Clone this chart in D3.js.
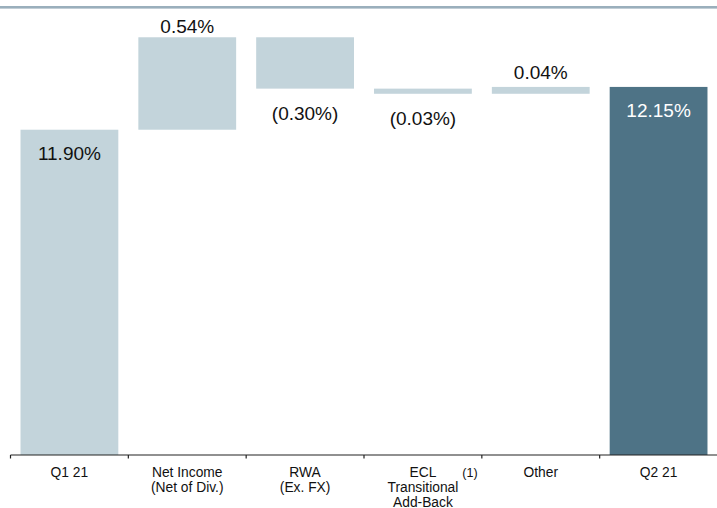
<!DOCTYPE html>
<html><head><meta charset="utf-8">
<script src="https://cdn.jsdelivr.net/npm/d3@7"></script>
<style>
html,body{margin:0;padding:0;background:#fff;}
svg{display:block;font-family:"Liberation Sans",Arial,sans-serif;}
</style></head>
<body>
<svg id="chart" width="717" height="508"></svg>
<script>
// Data
const categories = ["Q1 21", "Net Income|(Net of Div.)", "RWA|(Ex. FX)", "ECL|Transitional|Add-Back", "Other", "Q2 21"];
const values = [11.90, 0.54, -0.30, -0.03, 0.04, 12.15];
const kinds = ["total", "delta", "delta", "delta", "delta", "total"];
const valueLabels = ["11.90%", "0.54%", "(0.30%)", "(0.03%)", "0.04%", "12.15%"];
const footnotes = ["", "", "", "(1)", "", ""];

const svg = d3.select("#chart");
const W = 717, H = 508;

// top rule
svg.append("rect").attr("x", 0).attr("y", 6).attr("width", W).attr("height", 2.6).attr("fill", "#9aafbc");

const x = d3.scaleBand().domain(categories).range([10.5, 717.5]).paddingInner(0.17).paddingOuter(0.085);
const y = d3.scaleLinear().domain([10, 12.5]).range([455, 27]);

// compute waterfall segments
let running = 0;
const segs = categories.map((c, i) => {
  let lo, hi;
  if (kinds[i] === "total") { lo = 10; hi = values[i]; running = values[i]; }
  else { const s = running; running = running + values[i]; lo = Math.min(s, running); hi = Math.max(s, running); }
  return {c, i, lo, hi, v: values[i], kind: kinds[i], final: i === categories.length - 1};
});

svg.selectAll("rect.bar").data(segs).enter().append("rect")
  .attr("class", "bar")
  .attr("x", d => x(d.c))
  .attr("width", x.bandwidth())
  .attr("y", d => y(d.hi))
  .attr("height", d => y(d.lo) - y(d.hi))
  .attr("fill", d => d.final ? "#4e7386" : "#c3d4db");

// value labels
svg.selectAll("text.val").data(segs).enter().append("text")
  .attr("class", "val")
  .attr("x", d => x(d.c) + x.bandwidth() / 2)
  .attr("y", d => {
    if (d.kind === "total") return y(d.hi) + 30.5;
    if (d.v >= 0) return y(d.hi) - (d.v < 0.1 ? 7.5 : 4.5);
    return y(d.lo) + 31;
  })
  .attr("text-anchor", "middle")
  .attr("font-size", 19)
  .attr("fill", d => d.final ? "#ffffff" : "#111111")
  .text(d => valueLabels[d.i]);

// axis
const axisG = svg.append("g").attr("transform", "translate(0,455)");
axisG.append("line").attr("x1", 10.5).attr("x2", 717).attr("y1", 0).attr("y2", 0)
  .attr("stroke", "#222").attr("stroke-width", 1.2);
const step = x.step();
const tickXs = categories.map((c, i) => 10.5 + i * step);
axisG.selectAll("line.tick").data(tickXs).enter().append("line")
  .attr("class", "tick")
  .attr("x1", d => d).attr("x2", d => d).attr("y1", 0).attr("y2", 3.5)
  .attr("stroke", "#222").attr("stroke-width", 1.2);

// category labels
const lab = svg.selectAll("text.cat").data(categories).enter().append("text")
  .attr("class", "cat")
  .attr("text-anchor", "middle")
  .attr("font-size", 13.8)
  .attr("fill", "#111");
lab.each(function(c) {
  const parts = c.split("|");
  const cx = x(c) + x.bandwidth() / 2;
  parts.forEach((p, k) => {
    d3.select(this).append("tspan").attr("x", cx).attr("y", 476.5 + k * 15).text(p);
  });
});

// footnote markers
svg.selectAll("text.fn").data(categories.filter((c, i) => footnotes[i])).enter().append("text")
  .attr("class", "fn")
  .attr("x", c => x(c) + x.bandwidth() / 2 + 47)
  .attr("y", 476.5)
  .attr("text-anchor", "middle")
  .attr("font-size", 12.5)
  .attr("fill", "#111")
  .text(c => footnotes[categories.indexOf(c)]);
</script>
</body></html>
